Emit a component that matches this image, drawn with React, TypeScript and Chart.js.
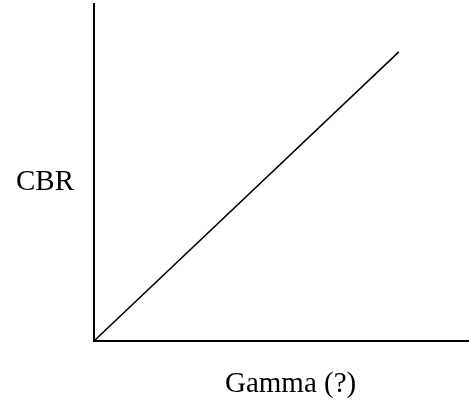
import React, { useEffect, useRef } from "react";
import { Chart, registerables } from "chart.js";

Chart.register(...registerables);

const gammaValues = [0, 81.5];
const cbrValues = [0, 85.8];
const xAxisLabel = "Gamma (?)";
const yAxisLabel = "CBR";

const labelPlugin = {
  id: "axisLabels",
  afterDraw(chart: any) {
    const ctx = chart.ctx;
    const area = chart.chartArea;
    ctx.save();
    ctx.fillStyle = "#000";
    ctx.font = '29px "Liberation Serif"';
    ctx.textBaseline = "alphabetic";
    ctx.textAlign = "left";
    ctx.fillText(yAxisLabel, area.left - 78, area.top + 186);
    ctx.fillText(xAxisLabel, area.left + 131, area.bottom + 51);
    ctx.restore();
  },
};

export default function App() {
  const ref = useRef<HTMLCanvasElement>(null);
  useEffect(() => {
    if (!ref.current) return;
    const chart = new Chart(ref.current, {
      type: "line",
      data: {
        datasets: [
          {
            data: gammaValues.map((g, i) => ({ x: g, y: cbrValues[i] })),
            borderColor: "#000",
            borderWidth: 1.5,
            pointRadius: 0,
            tension: 0,
          },
        ],
      },
      options: {
        animation: false,
        responsive: false,
        maintainAspectRatio: false,
        layout: { padding: { left: 94, top: 4, right: 1, bottom: 69 } },
        plugins: { legend: { display: false }, tooltip: { enabled: false } },
        scales: {
          x: {
            type: "linear",
            min: 0,
            max: 100,
            grid: { display: false, drawTicks: false },
            ticks: { display: false },
            border: { display: true, color: "#000", width: 2 },
            afterFit: (s: any) => {
              s.height = 0;
            },
          },
          y: {
            type: "linear",
            min: 0,
            max: 100,
            grid: { display: false, drawTicks: false },
            ticks: { display: false },
            border: { display: true, color: "#000", width: 2 },
            afterFit: (s: any) => {
              s.width = 0;
            },
          },
        },
      },
      plugins: [labelPlugin],
    });
    return () => chart.destroy();
  }, []);
  return (
    <div style={{ position: "fixed", left: 0, top: 0, width: 469, height: 410, background: "#fff" }}>
      <canvas ref={ref} width={469} height={410} style={{ width: 469, height: 410 }} />
    </div>
  );
}
